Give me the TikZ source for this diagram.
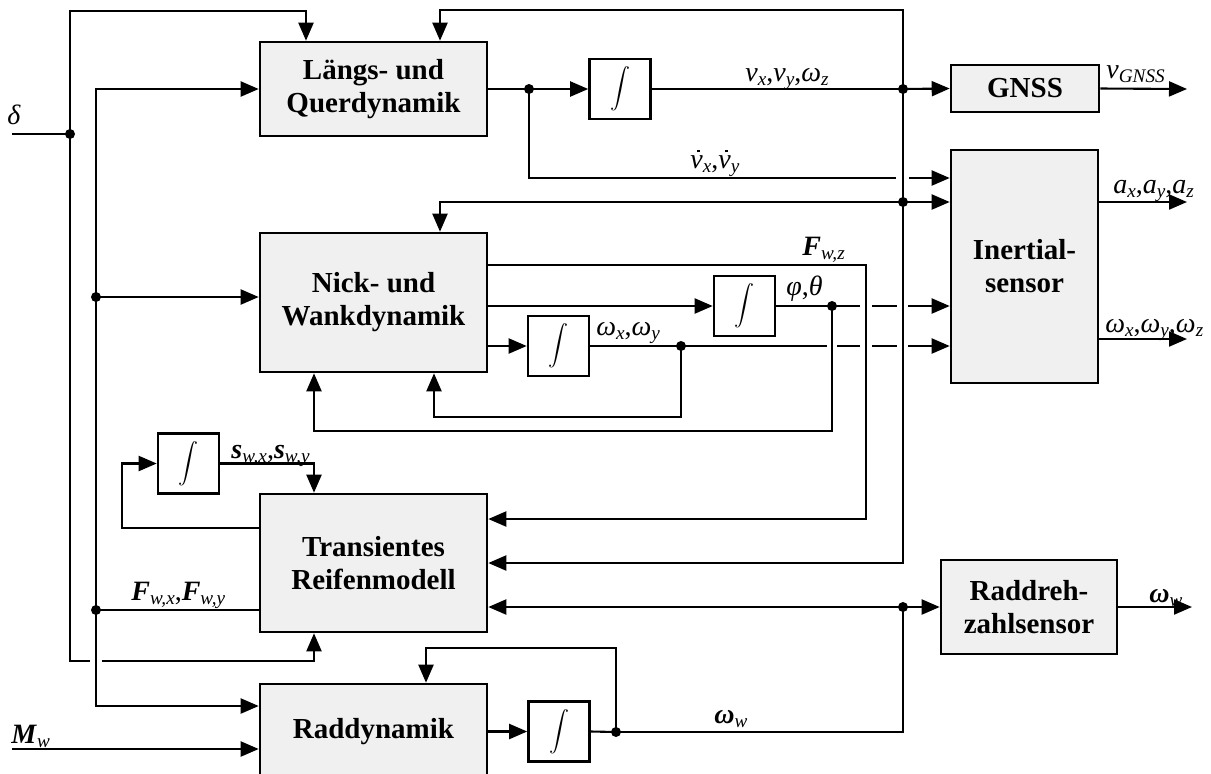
\documentclass[tikz,border=0pt]{standalone}
\usepackage{fontspec}
\setmainfont{Liberation Serif}
\usetikzlibrary{arrows.meta}
% subscript and variable helpers
\newcommand\sbx[1]{\raisebox{-0.35ex}{\fontsize{9.6}{10}\selectfont\mdseries\itshape #1}}
\newcommand\iv[1]{\textit{#1}}
\newcommand\bv[1]{\textbf{\textit{#1}}}
% time derivative of v: a small square dot set above the letter
\newcommand\dotv{\rlap{\kern0.25em\raisebox{0.56em}{\rule{0.1em}{0.1em}}}\iv{v}}

\begin{document}
\begin{tikzpicture}[x=0.5pt,y=-0.5pt,
  conn/.style={line width=1.05pt},
  arr/.style={conn,-{Triangle[length=9pt,width=7.5pt]}},
  block/.style={draw,line width=1.3pt,fill=black!6,
    font=\fontsize{14.5}{16.5}\selectfont\bfseries,align=center,inner sep=0},
  intg/.style={draw,line width=1.3pt,fill=white,minimum width=30.5pt,
    minimum height=30pt,inner sep=0,font=\fontsize{10.5}{10.5}\selectfont},
  lbl/.style={font=\fontsize{14}{15}\selectfont,inner sep=0}]
\useasboundingbox (0,0) rectangle (1211,773);
\clip (0,0) rectangle (1211,773);

% blocks
\node[block,minimum width=113.5pt,minimum height=47pt]   (lq)   at (373.5,89)   {Längs- und\\Querdynamik};
\node[block,minimum width=113.5pt,minimum height=69.5pt] (nw)   at (373.5,302.5) {Nick- und\\Wankdynamik};
\node[block,minimum width=113.5pt,minimum height=69pt]   (tr)   at (373.5,563)  {Transientes\\Reifenmodell};
\node[block,minimum width=113.5pt,minimum height=48pt]   (rd)   at (373.5,732)  {Raddynamik};
\node[block,minimum width=74pt,minimum height=23.5pt]    (gnss) at (1025,88.5)  {GNSS};
\node[block,minimum width=73.5pt,minimum height=116.5pt] (ins)  at (1024.5,266.5) {Inertial-\\sensor};
\node[block,minimum width=88pt,minimum height=47pt]      (rz)   at (1029,607)   {Raddreh-\\zahlsensor};

% integrators
\node[intg] (i1) at (620,89)    {$\displaystyle\int$};
\node[intg] (i2) at (558.5,346) {$\displaystyle\int$};
\node[intg] (i3) at (744.5,306) {$\displaystyle\int$};
\node[intg] (i4) at (188.5,463.5) {$\displaystyle\int$};
\node[intg] (i5) at (559,731.5) {$\displaystyle\int$};

% junctions and free ends
\coordinate (din) at (12,134);
\coordinate (min) at (12,749);
\coordinate (d1) at (70,134);
\coordinate (d3) at (96,297);
\coordinate (d4) at (96,610);
\coordinate (d5) at (529,89);
\coordinate (d6) at (903,89);
\coordinate (d7) at (903,202);
\coordinate (d8) at (832,306);
\coordinate (d9) at (681,346);
\coordinate (d10) at (903,607);
\coordinate (d11) at (616,732);
\coordinate (oG) at (1187,89);
\coordinate (oA) at (1187,202);
\coordinate (oW) at (1187,339);
\coordinate (oR) at (1192,607);

% steering angle
\draw[conn] (din) -- (d1);
\draw[arr] (d1) -- (70,11) -- (306,11) -- (lq.north -| 306,0);
\draw[conn] (d1) -- (70,661) -- (90,661);
\draw[arr] (102,661) -- (314,661) -- (tr.south -| 314,0);

% tyre forces bus
\draw[arr] (d3) |- (lq.west);
\draw[arr] (d3) -- (nw.west |- d3);
\draw[conn] (d3) -- (d4);
\draw[conn] (tr.west |- d4) -- (d4);
\draw[arr] (d4) |- (rd.west |- 0,706);
\draw[arr] (min) -- (rd.west |- min);

% longitudinal / lateral dynamics
\draw[conn] (lq.east) -- (d5);
\draw[arr] (d5) -- (i1.west);
\draw[conn] (i1.east) -- (d6);
\draw[arr] (d6) -- (gnss.west);
\draw[arr] (gnss.east) -- (oG);
\draw[conn] (d5) -- (529,178) -- (896,178);
\draw[arr] (909,178) -- (ins.west |- 0,178);
\draw[arr] (d6) -- (903,10) -- (440,10) -- (lq.north -| 440,0);
\draw[conn] (d6) -- (d7);
\draw[arr] (d7) -- (ins.west |- d7);
\draw[arr] (d7) -- (440,202) -- (nw.north -| 440,0);
\draw[arr] (d7) |- (tr.east |- 0,563);
\draw[arr] (ins.east |- oA) -- (oA);
\draw[arr] (ins.east |- oW) -- (oW);

% pitch and roll dynamics
\draw[arr] (nw.east |- 0,265) -- (866,265) -- (866,519) -- (tr.east |- 0,519);
\draw[arr] (nw.east |- i3) -- (i3.west);
\draw[conn] (i3.east) -- (d8) -- (860,306);
\draw[conn] (872,306) -- (897,306);
\draw[arr] (908,306) -- (ins.west |- 0,306);
\draw[arr] (nw.east |- i2) -- (i2.west);
\draw[conn] (i2.east) -- (d9) -- (827,346);
\draw[conn] (837,346) -- (860,346);
\draw[conn] (872,346) -- (897,346);
\draw[arr] (908,346) -- (ins.west |- 0,346);
\draw[arr] (d9) -- (681,417) -- (434,417) -- (nw.south -| 434,0);
\draw[arr] (d8) -- (832,431) -- (314,431) -- (nw.south -| 314,0);

% tyre slip
\draw[arr] (tr.west |- 0,528) -- (122,528) -- (122,463.5) -- (i4.west);
\draw[arr] (i4.east) -- (314,463.5) -- (tr.north -| 314,0);

% wheel speed
\draw[arr] (d10) -- (tr.east |- d10);
\draw[arr] (d10) -- (rz.west |- d10);
\draw[arr] (rz.east |- oR) -- (oR);
\draw[conn] (d10) |- (d11);
\draw[arr] (rd.east |- i5) -- (i5.west);
\draw[conn] (i5.east) -- (d11);
\draw[arr] (d11) -- (616,648) -- (426,648) -- (rd.north -| 426,0);

% junction dots
\foreach \p in {d1,d3,d4,d5,d6,d7,d8,d9,d10,d11}
  \fill (\p) circle[radius=2.5pt];

% signal labels
\node[lbl,anchor=base west] (t1)  at (7,124)    {\iv{δ}};
\node[lbl,anchor=base west] (t2)  at (11,743)   {\bv{M}\sbx{w}};
\node[lbl,anchor=base west] (t3)  at (745,81)   {\iv{v}\sbx{x},\iv{v}\sbx{y},\iv{ω}\sbx{z}};
\node[lbl,anchor=base west] (t4)  at (690,168)  {\dotv\sbx{x},\dotv\sbx{y}};
\node[lbl,anchor=base west] (t5)  at (1106,78)  {\iv{v}\sbx{GNSS}};
\node[lbl,anchor=base west] (t6)  at (1113,193) {\iv{a}\sbx{x},\iv{a}\sbx{y},\iv{a}\sbx{z}};
\node[lbl,anchor=base west] (t7)  at (1105,332) {\iv{ω}\sbx{x},\iv{ω}\sbx{y},\iv{ω}\sbx{z}};
\node[lbl,anchor=base west] (t8)  at (802,255)  {\bv{F}\sbx{w,z}};
\node[lbl,anchor=base west] (t9)  at (786,295)  {\iv{φ},\iv{θ}};
\node[lbl,anchor=base west] (t10) at (596,335)  {\iv{ω}\sbx{x},\iv{ω}\sbx{y}};
\node[lbl,anchor=base west] (t11) at (231,458)  {\bv{s}\sbx{w,x},\bv{s}\sbx{w,y}};
\node[lbl,anchor=base west] (t12) at (131,600)  {\bv{F}\sbx{w,x},\bv{F}\sbx{w,y}};
\node[lbl,anchor=base west] (t13) at (714,723)  {\bv{ω}\sbx{w}};
\node[lbl,anchor=base west] (t14) at (1149,602) {\bv{ω}\sbx{w}};
\end{tikzpicture}
\end{document}
